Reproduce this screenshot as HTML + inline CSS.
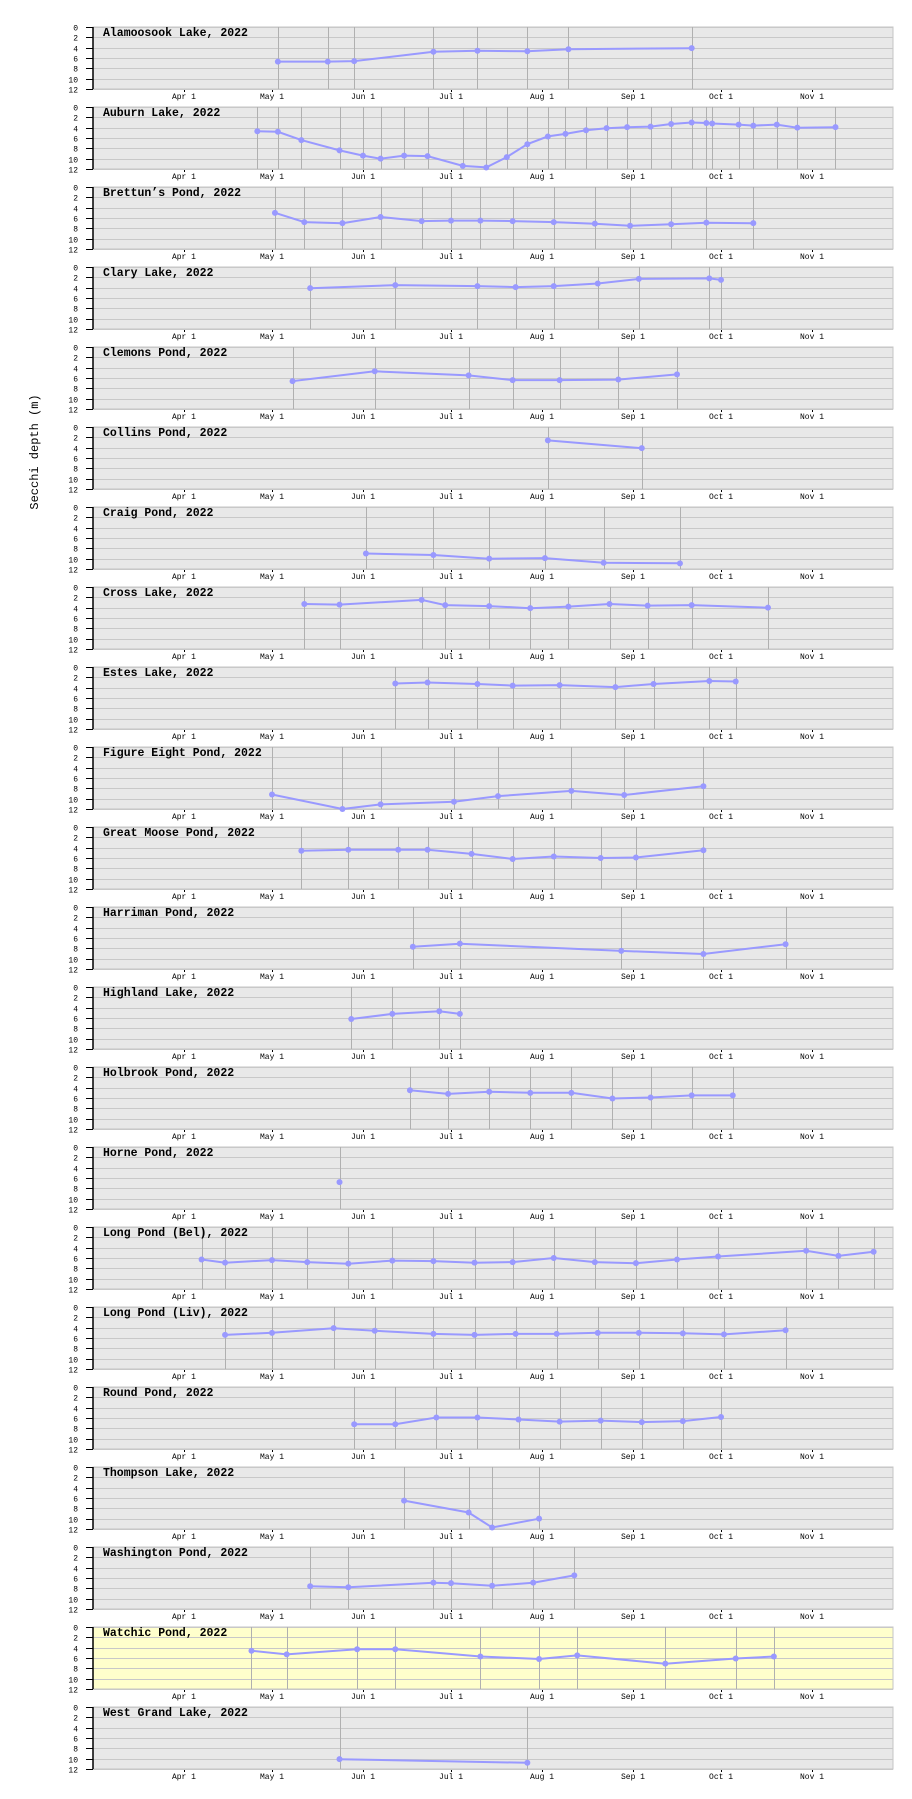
<!DOCTYPE html>
<html><head><meta charset="utf-8"><style>
body{margin:0;background:#fff;}
svg{display:block;}
text{font-family:"Liberation Mono",monospace;}
</style></head><body>
<svg id="chart" width="912" height="1799" viewBox="0 0 912 1799" xmlns="http://www.w3.org/2000/svg">
<text x="0" y="0" transform="translate(38,452) rotate(-90)" text-anchor="middle" font-size="12" fill="#000">Secchi depth (m)</text>
</svg>
<script>
const lakeNames = ["Alamoosook Lake","Auburn Lake","Brettun\u2019s Pond","Clary Lake","Clemons Pond","Collins Pond","Craig Pond","Cross Lake","Estes Lake","Figure Eight Pond","Great Moose Pond","Harriman Pond","Highland Lake","Holbrook Pond","Horne Pond","Long Pond (Bel)","Long Pond (Liv)","Round Pond","Thompson Lake","Washington Pond","Watchic Pond","West Grand Lake"];
const highlightedLake = "Watchic Pond";
const monthLabels = ["Apr 1","May 1","Jun 1","Jul 1","Aug 1","Sep 1","Oct 1","Nov 1"];
const monthDays = [0,30,61,91,122,153,183,214];
const depthTicks = [0,2,4,6,8,10,12];
// sample dates as days after Apr 1, 2022
const sampleDays = [
 [32,49,58,85,100,117,131,173],
 [25,32,40,53,61,67,75,83,95,103,110,117,124,130,137,144,151,159,166,173,178,180,189,194,202,209,222],
 [31,41,54,67,81,91,101,112,126,140,152,166,178,194],
 [43,72,100,113,126,141,155,179,183],
 [37,65,97,112,128,148,168],
 [124,156],
 [62,85,104,123,143,169],
 [41,53,81,89,104,118,131,145,158,173,199],
 [72,83,100,112,128,147,160,179,188],
 [30,54,67,92,107,132,150,177],
 [40,56,73,83,98,112,126,142,154,177],
 [78,94,149,177,205],
 [57,71,87,94],
 [77,90,104,118,132,146,159,173,187],
 [53],
 [6,14,30,42,56,71,85,99,112,126,140,154,168,182,212,223,235],
 [14,30,51,65,85,99,113,127,141,155,170,184,205],
 [58,72,86,100,114,128,142,156,170,183],
 [75,97,105,121],
 [43,56,85,91,105,119,133],
 [23,35,59,72,101,121,134,164,188,201],
 [53,117]
];
const secchiDepths = [
 [6.7,6.7,6.6,4.8,4.6,4.7,4.3,4.1],
 [4.7,4.8,6.4,8.4,9.4,10.0,9.4,9.5,11.4,11.7,9.7,7.2,5.7,5.2,4.5,4.1,3.9,3.8,3.3,3.0,3.1,3.2,3.4,3.6,3.4,4.0,3.9],
 [5.0,6.8,7.0,5.8,6.6,6.5,6.5,6.6,6.8,7.1,7.5,7.2,6.9,7.0],
 [4.1,3.5,3.7,3.9,3.7,3.2,2.3,2.2,2.5],
 [6.6,4.7,5.5,6.4,6.4,6.3,5.3],
 [2.6,4.1],
 [9.0,9.3,10.0,9.9,10.8,10.9],
 [3.3,3.4,2.5,3.5,3.7,4.1,3.8,3.3,3.6,3.5,4.0],
 [3.2,3.0,3.3,3.6,3.5,3.9,3.3,2.7,2.8],
 [9.2,12.3,11.1,10.6,9.5,8.5,9.3,7.6],
 [4.6,4.4,4.4,4.4,5.2,6.2,5.7,6.0,5.9,4.5],
 [7.7,7.1,8.5,9.1,7.2],
 [6.2,5.2,4.7,5.2],
 [4.5,5.2,4.8,5.0,5.0,6.1,5.9,5.5,5.5],
 [6.8],
 [6.3,6.9,6.4,6.8,7.1,6.5,6.6,6.9,6.8,6.0,6.8,7.0,6.3,5.7,4.6,5.6,4.8],
 [5.4,5.0,4.1,4.6,5.2,5.4,5.2,5.2,5.0,5.0,5.1,5.3,4.5],
 [7.2,7.2,5.9,5.9,6.3,6.7,6.5,6.8,6.6,5.8],
 [6.5,8.8,11.7,10.0],
 [7.6,7.8,6.9,7.0,7.5,6.9,5.5],
 [4.6,5.3,4.3,4.3,5.7,6.2,5.5,7.1,6.1,5.7],
 [10.1,10.8]
];

const NS = "http://www.w3.org/2000/svg";
const svg = document.getElementById("chart");
const PL = 93, PR = 893, PH = 62, TOP0 = 27, PITCH = 80;
const DMIN = -31, DMAX = 241.6, YMAX = 12;
function xScale(d){ return PL + (d - DMIN) / (DMAX - DMIN) * (PR - PL); }
function yScale(v, top){ return top + v / YMAX * PH; }
function mk(tag, attrs, parent){
  const e = document.createElementNS(NS, tag);
  for (const k in attrs) e.setAttribute(k, attrs[k]);
  (parent || svg).appendChild(e);
  return e;
}

lakeNames.forEach(function(name, i){
  const top = TOP0 + PITCH * i;
  const g = mk("g", {});
  
  
  const bg = mk("rect", {x: PL, y: top, width: PR - PL, height: PH, fill: name === highlightedLake ? "#ffffcc" : "#e8e8e8", stroke: "#c4c4c4", "stroke-width": 1}, g);
  
  
  depthTicks.forEach(function(t){
    const y = Math.round(yScale(t, top)) + 0.5;
    const gl = mk("line", {x1: PL, x2: PR, y1: y, y2: y, stroke: "#c8c8c8", "stroke-width": 1}, g);
    
    
    const tk = mk("line", {x1: PL - 7, x2: PL, y1: y, y2: y, stroke: "#000", "stroke-width": 1}, g);
    
    
    const tl = mk("text", {x: 78, y: y + 3, "text-anchor": "end", "font-size": 8, fill: "#000"}, g);
    
    
    tl.textContent = t;
  });
  const ax = mk("line", {x1: PL, x2: PL, y1: top, y2: top + PH, stroke: "#000", "stroke-width": 1.5}, g);
  
  
  monthDays.forEach(function(d, k){
    const x = xScale(d);
    const dot = mk("rect", {x: Math.round(x), y: top + PH + 1, width: 1, height: 2, fill: "#000"}, g);
    
    
    const ml = mk("text", {x: x, y: top + PH + 10, "text-anchor": "middle", "font-size": 8, fill: "#000"}, g);
    
    
    ml.textContent = monthLabels[k];
  });
  const days = sampleDays[i], vals = secchiDepths[i];
  days.forEach(function(d){
    const x = Math.round(xScale(d)) + 0.5;
    const st = mk("line", {x1: x, x2: x, y1: top, y2: top + PH, stroke: "#b0b0b0", "stroke-width": 1}, g);
    
    
  });
  const pts = days.map(function(d, k){ return xScale(d).toFixed(1) + "," + Math.min(yScale(vals[k], top), top + PH).toFixed(1); }).join(" ");
  if (days.length > 1) {
    const pl = mk("polyline", {points: pts, fill: "none", stroke: "#9999ff", "stroke-width": 2}, g);
    
    
  }
  days.forEach(function(d, k){
    const c = mk("circle", {cx: xScale(d), cy: Math.min(yScale(vals[k], top), top + PH), r: 3, fill: "#9999ff"}, g);
    
    
  });
  const tt = mk("text", {x: 103, y: top + 9, "font-size": 11.5, "font-weight": "bold", fill: "#000"}, g);
  
  
  tt.textContent = name + ", 2022";
});
</script>
</body></html>
